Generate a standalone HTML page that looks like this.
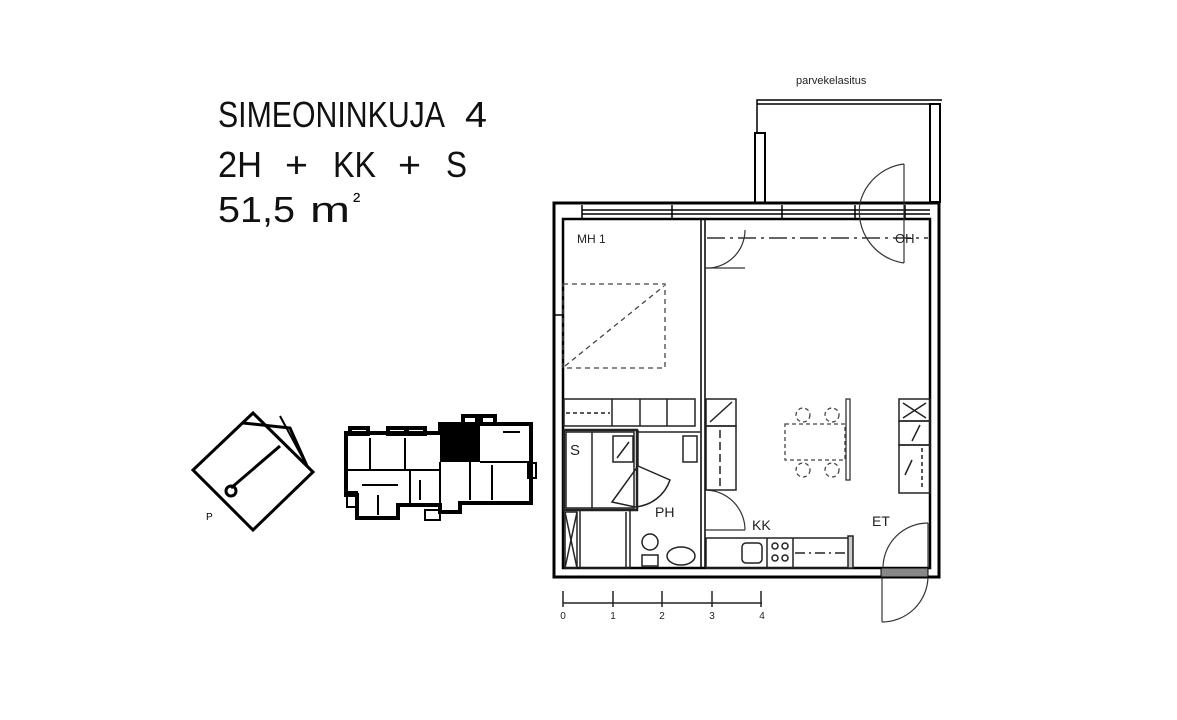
<!DOCTYPE html>
<html><head><meta charset="utf-8"><style>
html,body{margin:0;padding:0;background:#fff;}
svg{display:block;}
text{font-family:"Liberation Sans",sans-serif;}
</style></head><body>
<svg width="1177" height="720" viewBox="0 0 1177 720" xmlns="http://www.w3.org/2000/svg">
<rect width="1177" height="720" fill="#fff"/>
<!-- Title -->
<g fill="#111" font-size="36">
<text x="218" y="127" textLength="227" lengthAdjust="spacingAndGlyphs">SIMEONINKUJA</text>
<text x="465" y="127" textLength="22" lengthAdjust="spacingAndGlyphs">4</text>
<text x="218" y="177" textLength="44" lengthAdjust="spacingAndGlyphs">2H</text>
<text x="285" y="177" textLength="23" lengthAdjust="spacingAndGlyphs">+</text>
<text x="333" y="177" textLength="43" lengthAdjust="spacingAndGlyphs">KK</text>
<text x="398" y="177" textLength="23" lengthAdjust="spacingAndGlyphs">+</text>
<text x="446" y="177" textLength="21" lengthAdjust="spacingAndGlyphs">S</text>
<text x="218" y="222" textLength="77" lengthAdjust="spacingAndGlyphs">51,5</text>
<text x="310" y="222" textLength="40" lengthAdjust="spacingAndGlyphs">m</text>
<text x="353" y="208" font-size="22">²</text>
</g>
<!-- Compass -->
<g fill="none" stroke="#000" stroke-width="3">
<polygon points="253,413 313,472 253,530 193,470"/>
<polyline points="243,423 290,428 307,466"/>
<line x1="280" y1="416" x2="307" y2="466" stroke-width="2"/>
<line x1="280" y1="446" x2="231" y2="488"/>
<circle cx="231" cy="491" r="5"/>
</g>
<text x="206" y="520" font-size="10" fill="#000">P</text>
<!-- Site plan -->
<g fill="none" stroke="#000" stroke-width="4">
<polygon points="346,433 440,433 440,424 531,424 531,503 460,503 460,512 440,512 440,505 398,505 398,518 357,518 357,495 346,495"/>
<rect x="350" y="428" width="18" height="6"/>
<rect x="388" y="428" width="18" height="6"/>
<rect x="407" y="428" width="18" height="6"/>
<rect x="463" y="416" width="14" height="8"/>
<rect x="481" y="416" width="14" height="8"/>
<rect x="528" y="463" width="8" height="15" stroke-width="2"/>
<rect x="347" y="492" width="10" height="15" stroke-width="2"/>
<rect x="425" y="510" width="15" height="10" stroke-width="2"/>
</g>
<rect x="440" y="424" width="40" height="38" fill="#000"/>
<g stroke="#000" stroke-width="2" fill="none">
<line x1="370" y1="438" x2="370" y2="470"/><line x1="405" y1="438" x2="405" y2="470"/>
<line x1="346" y1="470" x2="440" y2="470"/><line x1="362" y1="485" x2="398" y2="485"/>
<line x1="410" y1="470" x2="410" y2="505"/><line x1="440" y1="462" x2="440" y2="505"/>
<line x1="480" y1="462" x2="531" y2="462"/><line x1="470" y1="462" x2="470" y2="500"/>
<line x1="492" y1="465" x2="492" y2="500"/><line x1="503" y1="432" x2="520" y2="432"/>
<line x1="378" y1="495" x2="378" y2="515"/><line x1="420" y1="480" x2="420" y2="500"/>
</g>
<!-- Balcony -->
<text x="796" y="84" font-size="11" fill="#222">parvekelasitus</text>
<g fill="none" stroke="#000" stroke-width="1.5">
<polyline points="757,133 757,100 942,100"/>
<line x1="757" y1="104" x2="930" y2="104"/>
<rect x="755" y="133" width="10" height="70" stroke-width="2"/>
<rect x="930" y="104" width="10" height="98" stroke-width="2"/>
</g>
<!-- Outer walls -->
<g fill="none" stroke="#000">
<rect x="554" y="203" width="385" height="374" stroke-width="3"/>
<rect x="563" y="219" width="367" height="349" stroke-width="2.5"/>
<g stroke-width="1.5">
<line x1="582" y1="205" x2="582" y2="218"/><line x1="672" y1="205" x2="672" y2="218"/>
<line x1="782" y1="205" x2="782" y2="218"/><line x1="855" y1="205" x2="855" y2="218"/>
<line x1="905" y1="205" x2="905" y2="218"/>
<line x1="582" y1="210" x2="930" y2="210"/><line x1="582" y1="214" x2="930" y2="214"/>
<line x1="554" y1="315" x2="563" y2="315"/>
</g>
<line x1="701" y1="220" x2="701" y2="568" stroke-width="1.5"/>
<line x1="705" y1="220" x2="705" y2="568" stroke-width="1.5"/>
</g>
<line x1="707" y1="238" x2="928" y2="238" stroke="#333" stroke-width="1.5" stroke-dasharray="18,5,3,5"/>
<!-- doors -->
<g fill="none" stroke="#333" stroke-width="1.2">
<path d="M705,268 A38,38 0 0 0 745,230"/><line x1="705" y1="268" x2="745" y2="268"/>
<path d="M904,263 A52,52 0 0 1 860,203 A52,52 0 0 1 904,164"/>
<line x1="904" y1="164" x2="904" y2="263"/>
<path d="M705,490 A40,40 0 0 1 745,530"/><line x1="705" y1="530" x2="745" y2="530"/>
<path d="M883,568 A45,45 0 0 1 928,523"/><line x1="928" y1="523" x2="928" y2="568"/>
<line x1="882" y1="577" x2="882" y2="622"/>
<path d="M882,622 A46,46 0 0 0 928,577"/>
</g>
<rect x="881" y="568" width="47" height="9" fill="#888" stroke="#000" stroke-width="1"/>
<!-- bed -->
<g fill="none" stroke="#444" stroke-width="1.3" stroke-dasharray="5,4">
<rect x="563" y="284" width="102" height="84"/>
<line x1="565" y1="366" x2="664" y2="286"/>
</g>
<!-- closets row -->
<g fill="none" stroke="#222" stroke-width="1.5">
<rect x="564" y="399" width="131" height="27"/>
<line x1="612" y1="399" x2="612" y2="426"/><line x1="640" y1="399" x2="640" y2="426"/>
<line x1="667" y1="399" x2="667" y2="426"/>
<line x1="566" y1="413" x2="610" y2="413" stroke-dasharray="4,3"/>
</g>
<!-- S / PH block -->
<g fill="none" stroke="#222" stroke-width="1.5">
<rect x="564" y="430" width="73" height="80" stroke-width="2.5"/>
<rect x="566" y="432" width="68" height="76"/>
<line x1="592" y1="432" x2="592" y2="508"/>
<rect x="613" y="436" width="20" height="26"/>
<line x1="617" y1="458" x2="629" y2="442"/>
<line x1="638" y1="432" x2="700" y2="432"/>
<rect x="683" y="436" width="14" height="26"/>
<line x1="638" y1="430" x2="638" y2="466"/>
<path d="M612,502 L638,466 L670,480 A40,40 0 0 1 635,507 Z"/>
<rect x="565" y="512" width="12" height="56"/>
<line x1="565" y1="512" x2="577" y2="568"/><line x1="577" y1="512" x2="565" y2="568"/>
<rect x="580" y="510" width="50" height="58"/>
<line x1="626" y1="512" x2="626" y2="568"/>
<circle cx="650" cy="542" r="8"/>
<rect x="642" y="555" width="16" height="11"/>
<ellipse cx="681" cy="556" rx="14" ry="9"/>
</g>
<text x="570" y="455" font-size="15" fill="#222">S</text>
<text x="655" y="517" font-size="14" fill="#222">PH</text>
<text x="577" y="243" font-size="12" fill="#222">MH  1</text>
<text x="895" y="243" font-size="13" fill="#222">OH</text>
<text x="752" y="530" font-size="14" fill="#222">KK</text>
<text x="872" y="526" font-size="14" fill="#222">ET</text>
<!-- kitchen -->
<g fill="none" stroke="#222" stroke-width="1.5">
<rect x="706" y="399" width="30" height="27"/>
<line x1="710" y1="422" x2="732" y2="402"/>
<rect x="706" y="426" width="30" height="64"/>
<line x1="720" y1="430" x2="720" y2="486" stroke-dasharray="8,4"/>
<rect x="706" y="538" width="145" height="30"/>
<line x1="767" y1="538" x2="767" y2="568"/><line x1="793" y1="538" x2="793" y2="568"/>
<rect x="742" y="543" width="20" height="20" rx="4"/>
<circle cx="775" cy="546" r="3"/><circle cx="785" cy="546" r="3"/>
<circle cx="775" cy="558" r="3"/><circle cx="785" cy="558" r="3"/>
<line x1="795" y1="553" x2="845" y2="553" stroke-dasharray="10,4,2,4"/>
<rect x="848" y="536" width="5" height="32" fill="#ccc"/>
<rect x="899" y="399" width="31" height="22"/>
<line x1="903" y1="403" x2="926" y2="418"/><line x1="926" y1="403" x2="903" y2="418"/>
<rect x="899" y="421" width="31" height="24"/>
<line x1="912" y1="441" x2="920" y2="425"/>
<rect x="899" y="445" width="31" height="48"/>
<line x1="912" y1="460" x2="905" y2="475"/>
<line x1="922" y1="448" x2="922" y2="490" stroke-dasharray="4,3"/>
</g>
<!-- table -->
<g fill="none" stroke="#444" stroke-width="1.3" stroke-dasharray="4,3">
<rect x="785" y="424" width="60" height="36"/>
<circle cx="803" cy="415" r="7"/><circle cx="832" cy="415" r="7"/>
<circle cx="803" cy="470" r="7"/><circle cx="832" cy="470" r="7"/>
</g>
<rect x="846" y="399" width="4" height="81" fill="#fff" stroke="#333" stroke-width="1.3"/>
<!-- scale bar -->
<g stroke="#222" stroke-width="1.5">
<line x1="563" y1="603" x2="762" y2="603"/>
<line x1="563" y1="591" x2="563" y2="607"/><line x1="613" y1="591" x2="613" y2="607"/>
<line x1="662" y1="591" x2="662" y2="607"/><line x1="712" y1="591" x2="712" y2="607"/>
<line x1="761" y1="591" x2="761" y2="607"/>
</g>
<g font-size="10" fill="#222" text-anchor="middle">
<text x="563" y="619">0</text><text x="613" y="619">1</text><text x="662" y="619">2</text>
<text x="712" y="619">3</text><text x="762" y="619">4</text>
</g>
</svg>
</body></html>
